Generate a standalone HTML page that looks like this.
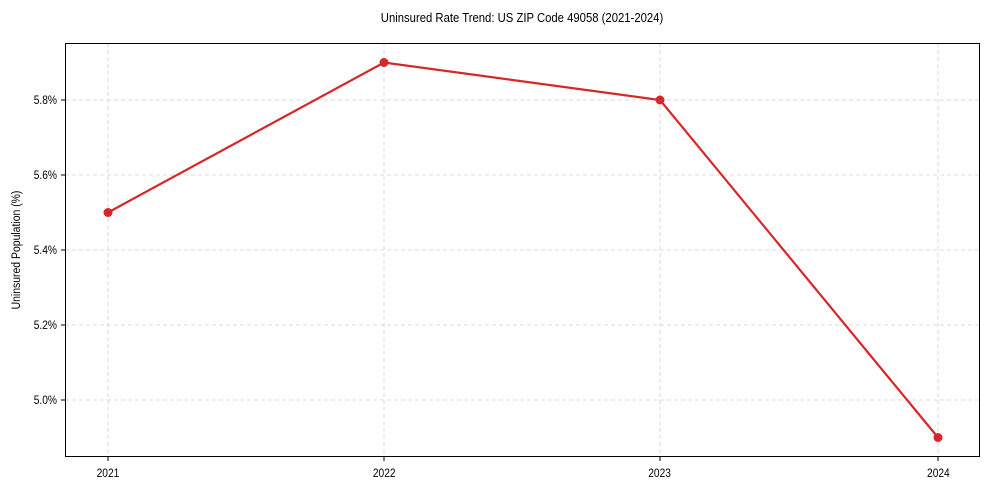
<!DOCTYPE html>
<html><head><meta charset="utf-8"><style>body{margin:0;background:#fff}svg text{font-family:"Liberation Sans",sans-serif;fill:#000}</style></head>
<body>
<svg width="989" height="490" viewBox="0 0 989 490" xmlns="http://www.w3.org/2000/svg">
<g stroke="#d0d0d0" stroke-width="0.8" stroke-dasharray="4,3">
<line x1="108" y1="43" x2="108" y2="456"/><line x1="384" y1="43" x2="384" y2="456"/>
<line x1="660" y1="43" x2="660" y2="456"/><line x1="938" y1="43" x2="938" y2="456"/>
<line x1="65" y1="100" x2="980" y2="100"/><line x1="65" y1="175" x2="980" y2="175"/>
<line x1="65" y1="250" x2="980" y2="250"/><line x1="65" y1="325" x2="980" y2="325"/>
<line x1="65" y1="400" x2="980" y2="400"/>
</g>
<rect x="65.5" y="43.5" width="914" height="413" fill="none" stroke="#000" stroke-width="1"/>
<g stroke="#000" stroke-width="1">
<line x1="108" y1="457" x2="108" y2="461"/><line x1="384" y1="457" x2="384" y2="461"/>
<line x1="660" y1="457" x2="660" y2="461"/><line x1="938" y1="457" x2="938" y2="461"/>
<line x1="61" y1="100" x2="65" y2="100"/><line x1="61" y1="175" x2="65" y2="175"/>
<line x1="61" y1="250" x2="65" y2="250"/><line x1="61" y1="325" x2="65" y2="325"/>
<line x1="61" y1="400" x2="65" y2="400"/>
</g>
<polyline points="108,212.5 384,62.5 660,100 938,437.5" fill="none" stroke="#d62728" stroke-width="2.2"/>
<g fill="#d62728"><circle cx="108" cy="212.5" r="4.5"/><circle cx="384" cy="62.5" r="4.5"/><circle cx="660" cy="100" r="4.5"/><circle cx="938" cy="437.5" r="4.5"/></g>
<g font-size="12" text-anchor="middle" transform="scale(0.85,1)">
<text x="127" y="477">2021</text><text x="452" y="477">2022</text><text x="776" y="477">2023</text><text x="1104" y="477">2024</text>
</g>
<g font-size="12" text-anchor="end" transform="scale(0.85,1)">
<text x="67" y="104">5.8%</text><text x="67" y="179">5.6%</text><text x="67" y="254">5.4%</text><text x="67" y="329">5.2%</text><text x="67" y="404">5.0%</text>
</g>
<text font-size="12" text-anchor="middle" transform="translate(20,250) rotate(-90) scale(0.87,1)">Uninsured Population (%)</text>
<text font-size="13" text-anchor="middle" transform="translate(522,22) scale(0.87,1)">Uninsured Rate Trend: US ZIP Code 49058 (2021-2024)</text>
</svg>
</body></html>
